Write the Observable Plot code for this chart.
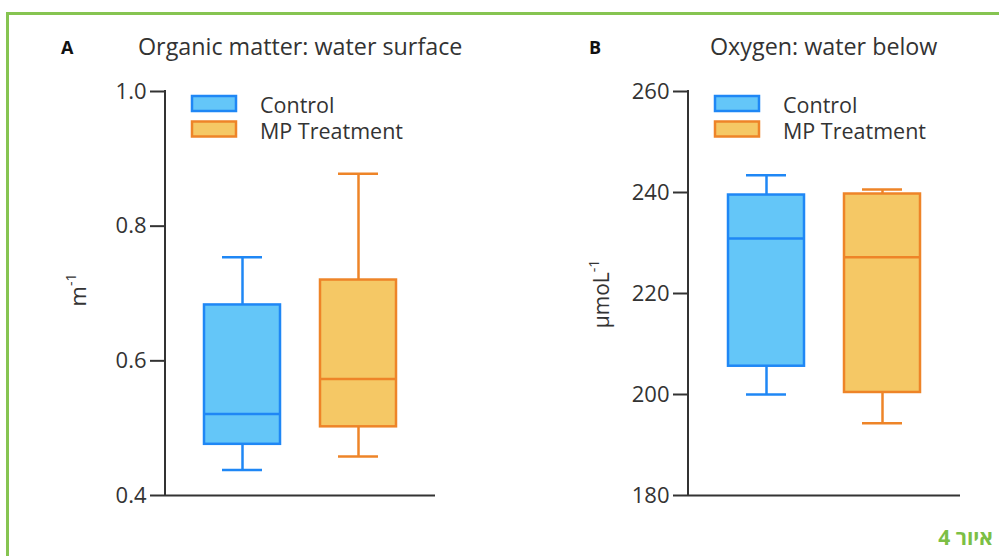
<!DOCTYPE html>
<html>
<head>
<meta charset="utf-8">
<script src="https://cdn.jsdelivr.net/npm/d3@7"></script>
<script src="https://cdn.jsdelivr.net/npm/@observablehq/plot@0.6"></script>
<style>
  html, body { margin: 0; padding: 0; background: #fff; }
  #page { position: relative; width: 999px; height: 556px; overflow: hidden; font-family: "Open Sans", sans-serif; color: #333; }
  #frame { position: absolute; left: 6px; top: 12px; width: 1100px; height: 700px; border-left: 3px solid #86c451; border-top: 3px solid #86c451; }
  .plot { position: absolute; top: 70px; }
  #overlay { position: absolute; left: 0; top: 0; }
  #caption { position: absolute; right: 6px; top: 525px; font-size: 21px; font-weight: bold; color: #7cbf45; direction: rtl; font-family: "Open Sans", sans-serif; line-height: 1.2; }
</style>
</head>
<body>
<div id="page">
  <div id="frame"></div>
  <div id="plotA" class="plot" style="left:0px"></div>
  <div id="plotB" class="plot" style="left:500px"></div>
  <svg id="overlay" width="999" height="556" font-family="Open Sans, sans-serif" fill="#333">
    <text x="61" y="54" font-size="18" font-weight="bold" fill="#111">A</text>
    <text x="138" y="55" font-size="23.3">Organic matter: water surface</text>
    <text x="589" y="54" font-size="18" font-weight="bold" fill="#111">B</text>
    <text x="710" y="55" font-size="23.3">Oxygen: water below</text>
    <g id="legA"></g>
    <g id="legB"></g>
    <text transform="translate(86,290) rotate(-90)" text-anchor="middle" font-size="22">m<tspan dy="-10" font-size="14">-1</tspan></text>
    <text transform="translate(609,294) rotate(-90)" text-anchor="middle" font-size="21">µmoL<tspan dy="-10" font-size="14">-1</tspan></text>
  </svg>
  <div id="caption">איור 4</div>
</div>
<script>
// ---- data ----
const groups = ["Control", "MP Treatment"];
// Panel A: Organic matter (m^-1)
const aMin = [0.438, 0.458];
const aQ1  = [0.476, 0.502];
const aMed = [0.521, 0.573];
const aQ3  = [0.683, 0.720];
const aMax = [0.754, 0.878];
const aTicks = [0.4, 0.6, 0.8, 1.0];
// Panel B: Oxygen (µmoL^-1)
const bMin = [200.0, 194.3];
const bQ1  = [205.6, 200.4];
const bMed = [230.9, 227.2];
const bQ3  = [239.5, 239.7];
const bMax = [243.4, 240.6];
const bTicks = [180, 200, 220, 240, 260];

const fills   = ["#64C6F8", "#F5C865"];
const strokes = ["#1F87F5", "#EE8428"];

function panel({min, q1, med, q3, max, ticks, fmt, width, marginLeft, marginRight}) {
  const data = groups.map((g, i) => ({g, i, min: min[i], q1: q1[i], med: med[i], q3: q3[i], max: max[i]}));
  const st = d => strokes[d.i];
  const fl = d => fills[d.i];
  const yMin = ticks[0], yMax = ticks[ticks.length - 1];
  const axisLine = (index, scales, values, dims) => {
    const line = d3.create("svg:line")
      .attr("x1", dims.marginLeft).attr("x2", dims.marginLeft)
      .attr("y1", scales.y(yMax) - 1).attr("y2", scales.y(yMin) + 1)
      .attr("stroke", "#333").attr("stroke-width", 2);
    return line.node();
  };
  return Plot.plot({
    width, height: 450,
    marginTop: 21, marginBottom: 25, marginLeft, marginRight,
    style: {fontFamily: "Open Sans, sans-serif", fontSize: "22px", color: "#333", background: "transparent", overflow: "visible"},
    x: {type: "band", domain: groups, paddingInner: 0.345, paddingOuter: 0.336, axis: null},
    y: {domain: [yMin, yMax], axis: null},
    color: {type: "identity"},
    marks: [
      Plot.ruleX(data, {x: "g", y1: "q3", y2: "max", stroke: st, strokeWidth: 2.5}),
      Plot.ruleX(data, {x: "g", y1: "min", y2: "q1", stroke: st, strokeWidth: 2.5}),
      Plot.tickY(data, {x: "g", y: "max", stroke: st, strokeWidth: 2.5, insetLeft: 18, insetRight: 18}),
      Plot.tickY(data, {x: "g", y: "min", stroke: st, strokeWidth: 2.5, insetLeft: 18, insetRight: 18}),
      Plot.barY(data, {x: "g", y1: "q1", y2: "q3", fill: fl, stroke: st, strokeWidth: 2.5}),
      Plot.tickY(data, {x: "g", y: "med", stroke: st, strokeWidth: 2.5}),
      Plot.ruleY([yMin], {stroke: "#333", strokeWidth: 2}),
      Plot.axisY(ticks, {tickSize: 15, tickPadding: 4, tickFormat: fmt, fontSize: 22, stroke: "#333", strokeWidth: 2, fill: "#333", label: null}),
      axisLine
    ]
  });
}

document.getElementById("plotA").append(panel({
  min: aMin, q1: aQ1, med: aMed, q3: aQ3, max: aMax,
  ticks: aTicks, fmt: d3.format(".1f"), width: 440, marginLeft: 165, marginRight: 5
}));
document.getElementById("plotB").append(panel({
  min: bMin, q1: bQ1, med: bMed, q3: bQ3, max: bMax,
  ticks: bTicks, fmt: d3.format("d"), width: 470, marginLeft: 188, marginRight: 10
}));

// legends
function legend(id, x0, textX) {
  const g = d3.select(id);
  groups.forEach((name, i) => {
    const y = 96 + i * 25.5;
    g.append("rect").attr("x", x0).attr("y", y).attr("width", 44).attr("height", 15)
      .attr("fill", fills[i]).attr("stroke", strokes[i]).attr("stroke-width", 2.5);
    g.append("text").attr("x", textX).attr("y", y + 17).attr("font-size", 21.5).text(name);
  });
}
legend("#legA", 192, 260);
legend("#legB", 715, 783);
</script>
</body>
</html>
